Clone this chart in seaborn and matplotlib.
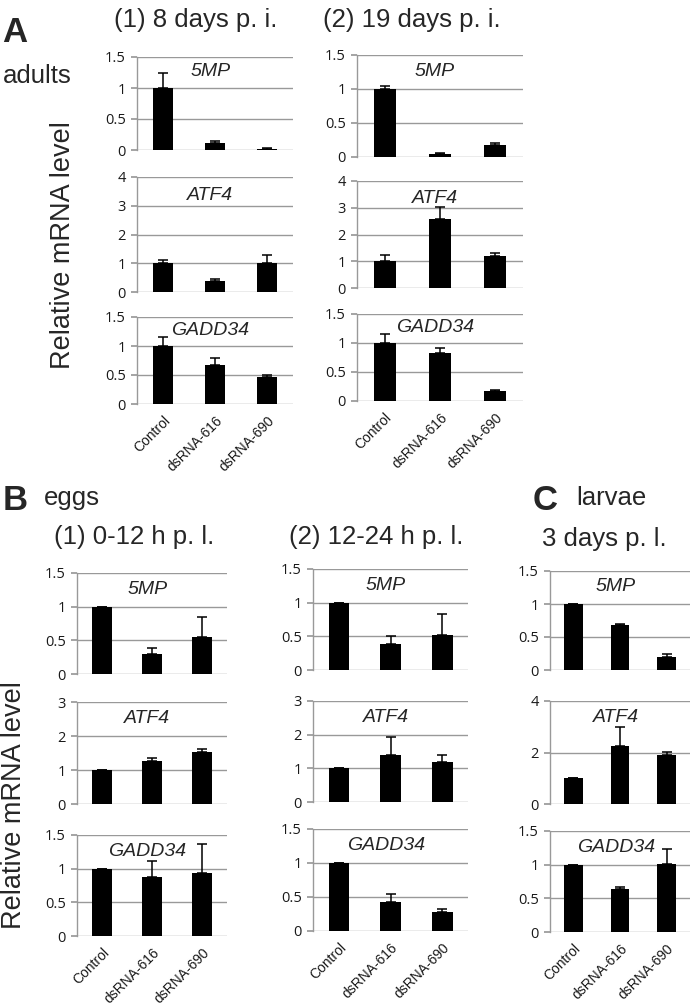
import matplotlib
matplotlib.use("Agg")
import matplotlib.pyplot as plt
import seaborn as sns
import pandas as pd
import numpy as np

sns.set_theme(style="white")
plt.rcParams['font.family'] = ['Liberation Sans', 'DejaVu Sans']

categories = ["Control", "dsRNA-616", "dsRNA-690"]
genes = ["5MP", "ATF4", "GADD34"]

# mean values and upper error per panel / gene
A1_5MP = [1.0, 0.12, 0.02];  A1_5MP_err = [0.24, 0.02, 0.01]
A1_ATF4 = [1.0, 0.37, 1.0];  A1_ATF4_err = [0.13, 0.09, 0.28]
A1_GADD34 = [1.0, 0.68, 0.46]; A1_GADD34_err = [0.16, 0.12, 0.04]

A2_5MP = [1.0, 0.05, 0.17];  A2_5MP_err = [0.04, 0.015, 0.04]
A2_ATF4 = [1.0, 2.59, 1.21]; A2_ATF4_err = [0.22, 0.45, 0.09]
A2_GADD34 = [1.0, 0.82, 0.18]; A2_GADD34_err = [0.16, 0.09, 0.01]

B1_5MP = [1.0, 0.29, 0.55];  B1_5MP_err = [0.0, 0.09, 0.29]
B1_ATF4 = [1.0, 1.27, 1.54]; B1_ATF4_err = [0.0, 0.08, 0.08]
B1_GADD34 = [1.0, 0.87, 0.93]; B1_GADD34_err = [0.0, 0.25, 0.44]

B2_5MP = [1.0, 0.39, 0.52];  B2_5MP_err = [0.0, 0.11, 0.31]
B2_ATF4 = [1.0, 1.41, 1.20]; B2_ATF4_err = [0.0, 0.52, 0.19]
B2_GADD34 = [1.0, 0.42, 0.28]; B2_GADD34_err = [0.0, 0.12, 0.05]

C_5MP = [1.0, 0.68, 0.19];   C_5MP_err = [0.0, 0.02, 0.06]
C_ATF4 = [1.0, 2.26, 1.92];  C_ATF4_err = [0.0, 0.73, 0.11]
C_GADD34 = [1.0, 0.64, 1.01]; C_GADD34_err = [0.0, 0.03, 0.22]

ylims = {"5MP": (1.5, [0, 0.5, 1, 1.5]),
         "ATF4_A": (4, [0, 1, 2, 3, 4]),
         "ATF4_B": (3, [0, 1, 2, 3]),
         "ATF4_C": (4, [0, 2, 4]),
         "GADD34": (1.5, [0, 0.5, 1, 1.5])}

W, H = 697, 1008
fig = plt.figure(figsize=(W / 100, H / 100), dpi=100)

def add_ax(l, t, r, b):
    return fig.add_axes([l / W, 1 - b / H, (r - l) / W, (b - t) / H])

def draw(ax, vals, errs, gene, ylim_key, show_x):
    ymax, ticks = ylims[ylim_key]
    df = pd.DataFrame({"cat": categories, "val": vals})
    sns.barplot(data=df, x="cat", y="val", ax=ax, color="black",
                saturation=1, width=0.4, errorbar=None, zorder=3,
                edgecolor="black", linewidth=0)
    ax.errorbar(range(len(vals)), vals, yerr=[np.zeros(len(errs)), errs],
                fmt="none", ecolor="black", elinewidth=1.1, capsize=3.5,
                capthick=1.1, zorder=4)
    ax.set_xlim(-0.5, 2.5)
    ax.set_ylim(0, ymax)
    ax.set_yticks(ticks)
    ax.set_yticklabels(["{:g}".format(t) for t in ticks],
                       fontsize=10.5, color="#1a1a1a", family="Open Sans")
    ax.yaxis.grid(True, color="#999999", linewidth=1)
    ax.set_axisbelow(True)
    for s in ["top", "right", "bottom"]:
        ax.spines[s].set_visible(False)
    ax.spines["left"].set_color("#999999")
    ax.spines["left"].set_linewidth(1)
    ax.tick_params(axis="y", left=True, length=4, color="#999999", pad=4)
    ax.set_xlabel("")
    ax.set_ylabel("")
    if show_x:
        ax.set_xticks(range(3))
        ax.set_xticklabels(categories, rotation=45, ha="right",
                           rotation_mode="anchor", fontsize=10,
                           family="Liberation Sans", color="#1a1a1a")
        ax.tick_params(axis="x", bottom=False, pad=1)
    else:
        ax.set_xticks([])
    ax.text(0.47, 0.84, gene, transform=ax.transAxes, ha="center",
            va="center", fontsize=14, style="italic")

panels = [
    ((137, 293), [(57, 150), (177, 292), (317, 404)],
     [(A1_5MP, A1_5MP_err), (A1_ATF4, A1_ATF4_err), (A1_GADD34, A1_GADD34_err)], "ATF4_A"),
    ((357, 523), [(55, 157), (181, 288), (314, 401)],
     [(A2_5MP, A2_5MP_err), (A2_ATF4, A2_ATF4_err), (A2_GADD34, A2_GADD34_err)], "ATF4_A"),
    ((77, 227), [(573, 674), (702, 804), (835, 936)],
     [(B1_5MP, B1_5MP_err), (B1_ATF4, B1_ATF4_err), (B1_GADD34, B1_GADD34_err)], "ATF4_B"),
    ((313, 468), [(569, 670), (701, 802), (829, 931)],
     [(B2_5MP, B2_5MP_err), (B2_ATF4, B2_ATF4_err), (B2_GADD34, B2_GADD34_err)], "ATF4_B"),
    ((550, 690), [(571, 670), (701, 804), (831, 932)],
     [(C_5MP, C_5MP_err), (C_ATF4, C_ATF4_err), (C_GADD34, C_GADD34_err)], "ATF4_C"),
]

for (xl, xr), rows, data, atfkey in panels:
    for i, ((t, b), (v, e)) in enumerate(zip(rows, data)):
        ax = add_ax(xl, t, xr, b)
        key = "5MP" if i == 0 else (atfkey if i == 1 else "GADD34")
        draw(ax, v, e, genes[i], key, show_x=(i == 2))

def ftext(x, y, s, **kw):
    fig.text(x / W, 1 - y / H, s, **kw)

# Panel A
ftext(2, 33, "A", fontsize=25, fontweight="bold", va="center", ha="left")
ftext(3, 76, "adults", fontsize=18.5, va="center", ha="left")
ftext(196, 20, "(1) 8 days p. i.", fontsize=18.5, va="center", ha="center")
ftext(412, 20, "(2) 19 days p. i.", fontsize=18.5, va="center", ha="center")
ftext(63, 245, "Relative mRNA level", fontsize=19.5, rotation=90,
      va="center", ha="center")

# Panel B
ftext(3, 500, "B", fontsize=25, fontweight="bold", va="center", ha="left")
ftext(44, 498, "eggs", fontsize=18.5, va="center", ha="left")
ftext(134, 537, "(1) 0-12 h p. l.", fontsize=18.5, va="center", ha="center")
ftext(376, 537, "(2) 12-24 h p. l.", fontsize=18.5, va="center", ha="center")
ftext(14, 805, "Relative mRNA level", fontsize=19.5, rotation=90,
      va="center", ha="center")

# Panel C
ftext(533, 500, "C", fontsize=25, fontweight="bold", va="center", ha="left")
ftext(576, 498, "larvae", fontsize=18.5, va="center", ha="left")
ftext(604, 539, "3 days p. l.", fontsize=18.5, va="center", ha="center")

fig.savefig("out.png", dpi=100)
